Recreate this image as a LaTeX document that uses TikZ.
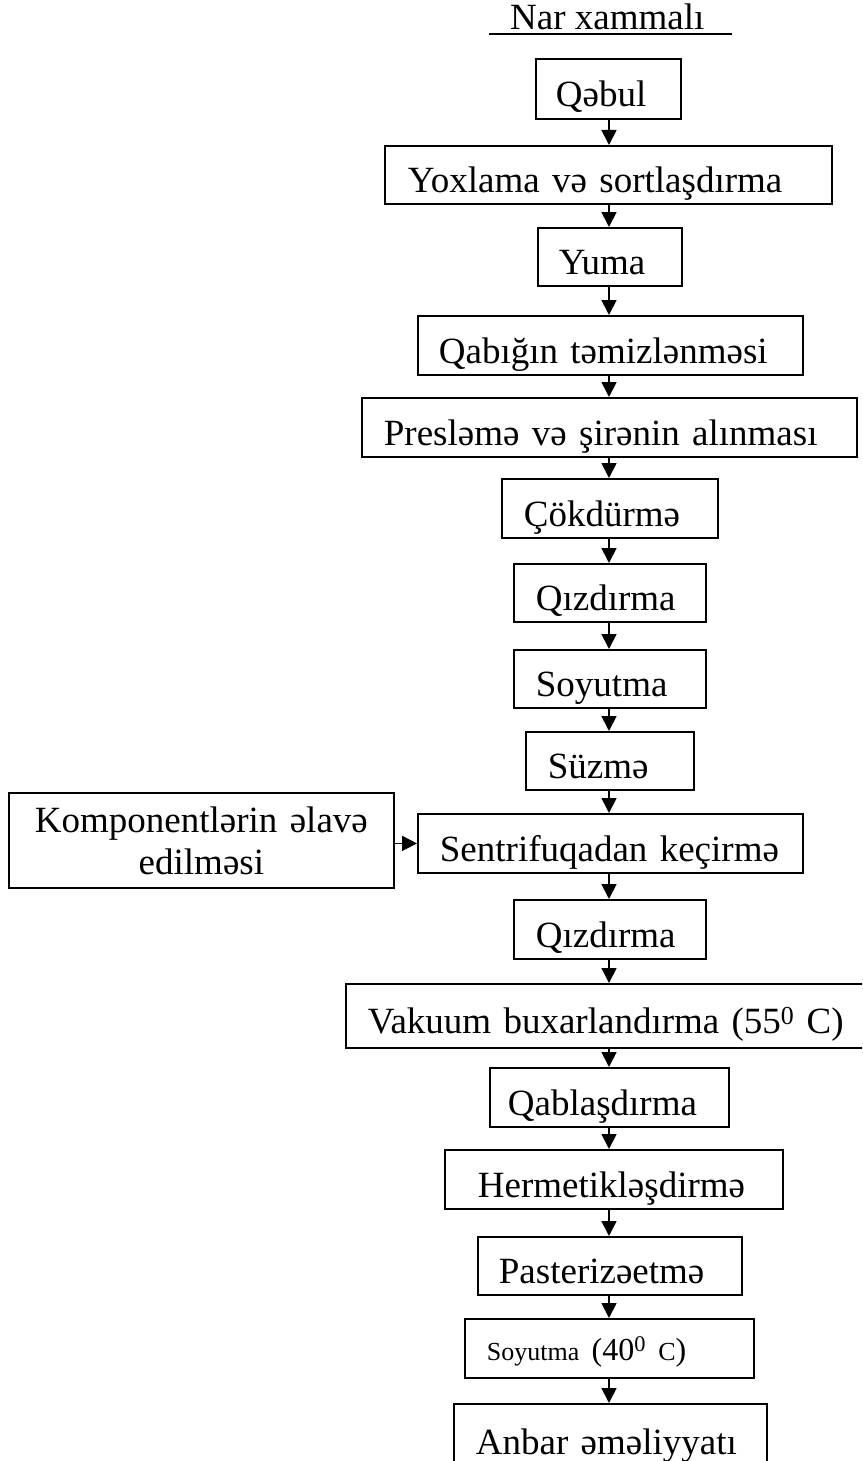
\documentclass[tikz,border=0pt]{standalone}
\usepackage{fontspec}
\setmainfont{Liberation Serif}
\usetikzlibrary{arrows.meta}

\newcommand{\bigtext}{\fontsize{37}{42}\selectfont}
\newcommand{\smalltext}{\fontsize{26}{30}\selectfont}
\newcommand{\midtext}{\fontsize{32}{36}\selectfont}

\begin{document}
\begin{tikzpicture}[x=1pt, y=-1pt,
    stage/.style={draw, line width=1.8pt, anchor=north west, inner ysep=0pt, align=left,
        text height=36pt, text depth=0pt, font=\bigtext},
    flow/.style={-{Triangle[length=15pt, width=15pt]}, line width=1.8pt}]
    \clip (0,0) rectangle (862,1461);
    \coordinate (axis) at (609,0);
    % Title
    \node[anchor=base west, inner sep=0pt, font=\bigtext] (title) at (489,30) {\hspace*{21pt}Nar xammalı\hspace*{27pt}};
    \draw[line width=1.8pt] ([yshift=-4pt]title.base west) -- ([yshift=-4pt]title.base east);
    % Process steps
    \node[stage, text width=105pt, inner xsep=20pt, minimum height=60pt] (qebul) at (535,58) {Qəbul};
    \node[stage, text width=401pt, inner xsep=23pt, minimum height=58pt] (yoxlama) at (384,145) {Yoxlama və sortlaşdırma};
    \node[stage, text width=102pt, inner xsep=21pt, minimum height=58pt] (yuma) at (537,227) {Yuma};
    \node[stage, text width=343pt, inner xsep=21pt, minimum height=59pt] (qabiq) at (417,315) {Qabığın təmizlənməsi};
    \node[stage, text width=451pt, inner xsep=22pt, minimum height=59pt] (presleme) at (361,397) {Presləmə və şirənin alınması};
    \node[stage, text width=172pt, inner xsep=22pt, minimum height=59pt] (cokdurme) at (501,478) {Çökdürmə};
    \node[stage, text width=148pt, inner xsep=22pt, minimum height=58pt] (qizdirma) at (513,563) {Qızdırma};
    \node[stage, text width=148pt, inner xsep=22pt, minimum height=58pt] (soyutma) at (513,649) {Soyutma};
    \node[stage, text width=124pt, inner xsep=22pt, minimum height=58pt] (suzme) at (525,731) {Süzmə};
    \node[stage, text width=341pt, inner xsep=22pt, minimum height=59pt] (sentrifuqa) at (417,813) {Sentrifuqadan keçirmə};
    \node[stage, text width=345pt, inner xsep=20pt, minimum height=95pt, align=center,
        text height={}, text depth={}] (komponent) at (8,792) {Komponentlərin əlavə\\edilməsi};
    \node[stage, text width=148pt, inner xsep=22pt, minimum height=59pt] (qizdirmaB) at (513,899) {Qızdırma};
    \node[stage, text width=474pt, inner xsep=22pt, minimum height=64pt] (vakuum) at (345,983) {\mbox{Vakuum buxarlandırma (55\textsuperscript{0} C)}};
    \node[stage, text width=203pt, inner xsep=18pt, minimum height=59pt] (qablasdirma) at (489,1067) {Qablaşdırma};
    \node[stage, text width=272pt, inner xsep=33pt, minimum height=59pt] (hermetik) at (444,1149) {Hermetikləşdirmə};
    \node[stage, text width=222pt, inner xsep=21pt, minimum height=58pt] (pasteriz) at (477,1236) {Pasterizəetmə};
    \node[stage, text width=245pt, inner xsep=22pt, minimum height=59pt, text height=25pt] (soyutmaB) at (464,1318)
        {{\smalltext Soyutma }{\midtext (40\textsuperscript{0}}{\smalltext~C}{\midtext )}};
    \node[stage, text width=269pt, inner xsep=22pt, minimum height=66pt] (anbar) at (453,1403) {Anbar əməliyyatı};
    % Arrows
    \foreach \a/\b in {qebul/yoxlama, yoxlama/yuma, yuma/qabiq, qabiq/presleme, presleme/cokdurme,
        cokdurme/qizdirma, qizdirma/soyutma, soyutma/suzme, suzme/sentrifuqa, sentrifuqa/qizdirmaB,
        qizdirmaB/vakuum, vakuum/qablasdirma, qablasdirma/hermetik, hermetik/pasteriz,
        pasteriz/soyutmaB, soyutmaB/anbar}
        \draw[flow] (\a.south -| axis) -- (\b.north -| axis);
    \draw[flow] (komponent.east |- sentrifuqa.west) -- (sentrifuqa.west);
\end{tikzpicture}
\end{document}
